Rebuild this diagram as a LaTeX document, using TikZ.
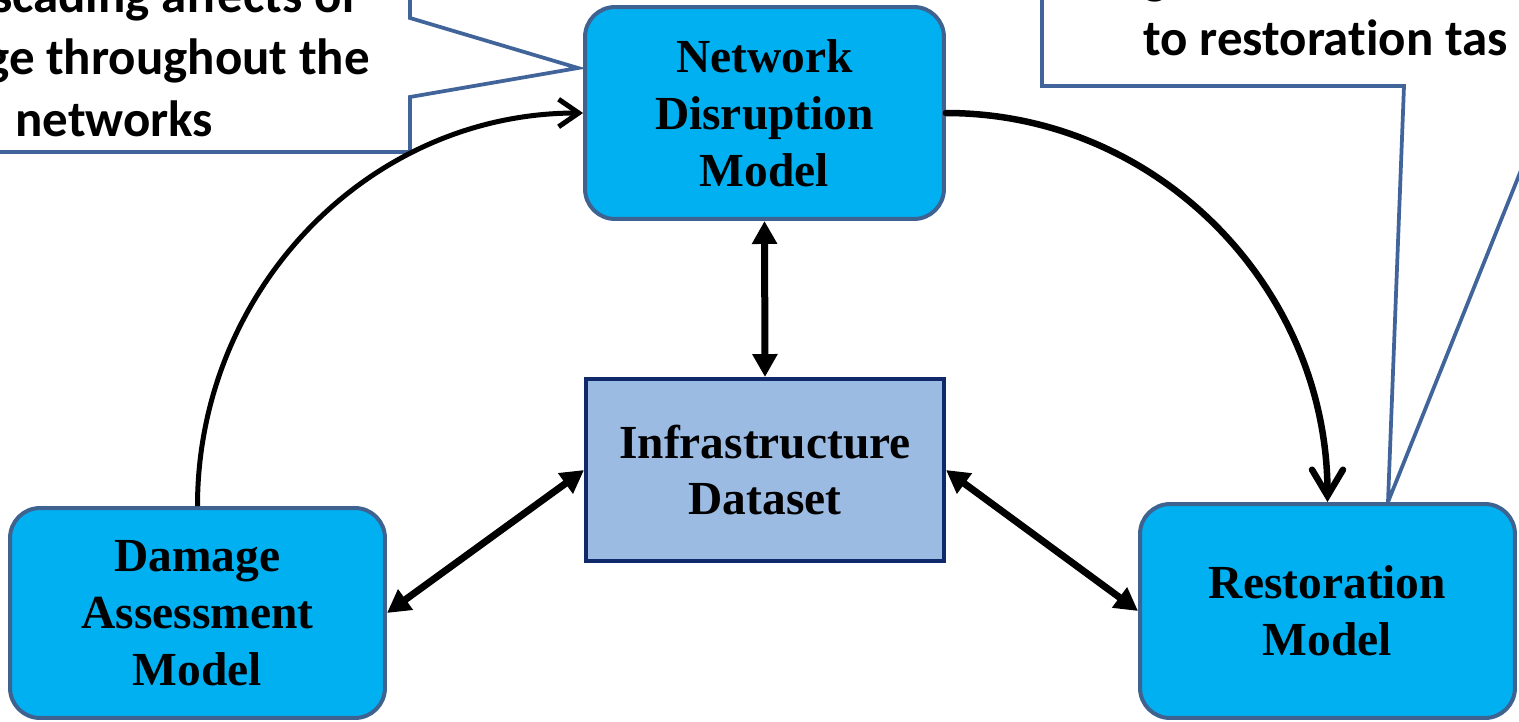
\documentclass[tikz,border=0pt]{standalone}
\usepackage{fontspec}
\setmainfont{Liberation Serif}
\newfontfamily\calloutfont[Ligatures=NoCommon]{Carlito}
\usetikzlibrary{arrows.meta}
\definecolor{boxcyan}{HTML}{00B0F0}
\definecolor{modelborder}{HTML}{3F6391}
\definecolor{datafill}{HTML}{9BBBE2}
\definecolor{databorder}{HTML}{10296B}
\definecolor{calloutline}{HTML}{41659A}
\begin{document}
\begin{tikzpicture}[x=0.02cm,y=-0.02cm,
  model/.style={draw=modelborder, fill=boxcyan, line width=0.08cm,
    rounded corners=0.6cm, align=center, inner sep=0pt,
    font=\fontsize{27pt}{32.4pt}\selectfont\bfseries},
  dataset/.style={draw=databorder, fill=datafill, line width=0.08cm,
    align=center, inner sep=0pt,
    font=\fontsize{27pt}{32.4pt}\selectfont\bfseries},
  callouttext/.style={inner sep=0pt,
    font=\calloutfont\fontsize{29pt}{35pt}\selectfont\bfseries},
  calloutshape/.style={draw=calloutline, line width=0.075cm},
  thinarrow/.style={line width=0.1cm, -{Straight Barb[length=0.4cm,width=0.55cm]}},
  thickarrow/.style={line width=0.13cm, line cap=round,
    -{Straight Barb[length=0.52cm,width=0.62cm,line cap=round]}},
  dblarrow/.style={line width=0.14cm,
    {Triangle[length=0.46cm,width=0.48cm]}-{Triangle[length=0.46cm,width=0.48cm]}}
]
\useasboundingbox (0,0) rectangle (1519,721);
\clip (0,0) rectangle (1519,721);
\fill[white] (0,0) rectangle (1519,721);

% callouts
\draw[calloutshape] (410,-30) -- (410,18) -- (578,68) -- (410,97) -- (410,152) -- (-30,152);
\node[callouttext, anchor=base east] (l1) at (358,12) {scading affects of};
\node[callouttext, anchor=base east] (l2) at (370,74) {ge throughout the};
\node[callouttext, anchor=base west] (l3) at (15,136) {networks};

\draw[calloutshape] (1042,-30) -- (1042,86) -- (1404,86) -- (1388,502) -- (1570,48);
\node[callouttext, anchor=base west] (r1) at (1143,-7) {g};
\node[callouttext, anchor=base west] (r2) at (1143,55) {to restoration tas};

% nodes
\node[model, minimum width=7.18cm, minimum height=4.24cm] (ND) at (764.5,113) {Network\\Disruption\\Model};
\node[dataset, minimum width=7.16cm, minimum height=3.64cm] (ID) at (765,470) {Infrastructure\\Dataset};
\node[model, minimum width=7.5cm, minimum height=4.2cm] (DA) at (197.5,613) {Damage\\Assessment\\Model};
\node[model, minimum width=7.5cm, minimum height=4.28cm] (RM) at (1327.5,611) {Restoration\\Model};

% connectors
\draw[thinarrow] (DA.north) to[out=90,in=180] (ND.west);
\draw[thickarrow] (ND.east) to[out=0,in=90] (RM.north);
\draw[dblarrow] (ND.south) -- (ID.north);
\draw[dblarrow] (ID.west) -- (DA.east);
\draw[dblarrow] (ID.east) -- (RM.west);
\end{tikzpicture}
\end{document}
